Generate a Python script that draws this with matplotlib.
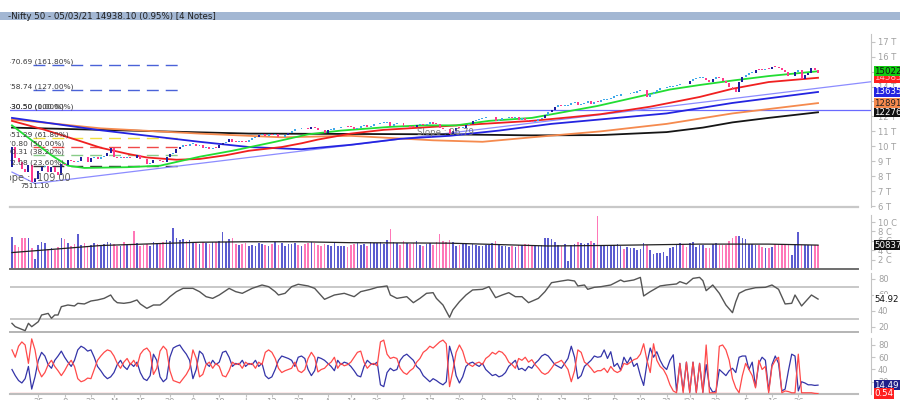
import numpy as np
import matplotlib
matplotlib.use("Agg")
import matplotlib.pyplot as plt
from matplotlib.transforms import blended_transform_factory as blend

# Nifty 50 daily, 13 Mar 2020 .. 5 Mar 2021 (bar 0 = 13 Mar 2020)
first_open = 8590
closes = [
    9955, 9197, 8967, 8468, 8263, 8745, 7610, 7801, 8318, 8641, 8660, 8281, 8598,
    8254, 8084, 8792, 8748, 9112, 8994, 8925, 8992, 9267, 9262, 8981, 9187, 9313, 9154, 9282, 9380, 9553, 9860,
    9294, 9205, 9270, 9199, 9252, 9240, 9197, 9384, 9142, 9137, 8823, 8880, 9067, 9106, 9039, 8946, 9315, 9490, 9580,
    9826, 9980, 10061, 10029, 10142, 10168, 10047, 10116, 9902, 9972, 9814, 9914, 9882, 10091, 10244, 10312, 10471, 10305, 10289, 10383, 10312, 10302,
    10430, 10552, 10607, 10764, 10800, 10706, 10813, 10768, 10802, 10607, 10618, 10740, 10901, 11022, 11162, 11132, 11215, 11194, 11131, 11300, 11202, 11102, 11073,
    10892, 11095, 11102, 11200, 11214, 11270, 11322, 11308, 11300, 11178, 11247, 11385, 11409, 11312, 11372, 11466, 11472, 11550, 11559, 11648, 11388,
    11470, 11536, 11527, 11334, 11355, 11318, 11279, 11450, 11464, 11441, 11522, 11605, 11516, 11505, 11251, 11154, 11132, 10806, 11050, 11228, 11222, 11248,
    11417, 11503, 11662, 11739, 11834, 11914, 11930, 11935, 11971, 11680, 11762, 11873, 11897, 11937, 11896, 11930, 11768, 11889, 11730, 11670, 11642,
    11669, 11813, 11908, 12120, 12264, 12461, 12631, 12749, 12691, 12720, 12780, 12874, 12938, 12772, 12860, 12927, 13055, 12858, 12987, 12969,
    13110, 13114, 13134, 13259, 13356, 13393, 13529, 13478, 13514, 13558, 13567, 13683, 13740, 13761, 13328, 13466, 13601, 13749, 13873, 13932, 13982, 13982,
    14018, 14133, 14199, 14146, 14137, 14347, 14485, 14563, 14565, 14596, 14434, 14281, 14521, 14645, 14590, 14372, 14239, 13968, 13818, 13635,
    14281, 14647, 14790, 14896, 14924, 15116, 15109, 15106, 15173, 15163, 15315, 15314, 15209, 15119, 14982, 14676, 14708, 14982, 15098, 14529,
    14762, 14920, 15245, 15081, 14938,
]

# volume in crore shares
volumes = [
    6.9, 5.1, 4.7, 6.6, 6.6, 6.6, 4.4, 2.1, 5.1, 5.7, 5.5, 4.2, 4.4,
    4.0, 4.6, 6.5, 6.3, 5.5, 4.8, 5.4, 7.4, 5.2, 5.6, 5.0, 5.2, 5.6, 5.3, 5.0, 5.4, 5.8, 5.6,
    5.4, 4.8, 5.0, 5.8, 5.1, 5.3, 8.1, 5.6, 5.0, 5.2, 5.4, 4.9, 5.7, 5.6, 5.4, 5.8, 6.2, 5.9, 8.7,
    6.6, 6.2, 6.3, 5.9, 6.1, 5.8, 5.5, 5.4, 5.7, 5.5, 5.3, 5.8, 5.7, 6.0, 7.9, 5.8, 6.4, 6.5, 5.4, 5.2, 5.3, 5.6,
    5.0, 5.2, 4.9, 5.6, 5.3, 5.2, 4.8, 5.4, 5.7, 5.1, 5.5, 5.0, 5.4, 5.3, 5.6, 5.2, 5.0, 5.4, 5.5, 5.8, 5.6, 5.2, 5.0,
    5.4, 5.2, 5.0, 5.5, 4.8, 5.0, 4.9, 4.6, 5.1, 5.3, 5.6, 5.2, 5.4, 5.0, 5.8, 5.6, 5.5, 5.7, 5.4, 6.2, 8.5,
    5.8, 5.5, 5.2, 6.0, 5.6, 5.4, 5.5, 5.9, 5.2, 4.8, 5.3, 5.6, 5.1, 5.8, 7.4, 6.0, 5.8, 6.2, 5.8, 5.0, 5.1, 5.4,
    5.3, 4.9, 5.4, 5.2, 5.0, 4.9, 5.1, 5.2, 5.5, 6.0, 5.4, 4.8, 4.9, 4.7, 5.0, 4.6, 5.2, 5.1, 5.4, 5.3, 5.1,
    5.1, 5.0, 5.2, 6.6, 6.5, 6.3, 5.8, 5.1, 4.9, 5.3, 1.8, 5.2, 5.4, 5.8, 5.6, 5.3, 5.6, 5.9, 5.5, 11.3,
    5.1, 5.2, 5.0, 5.1, 5.2, 5.4, 4.8, 4.3, 4.6, 4.4, 4.4, 4.0, 4.3, 5.6, 5.1, 4.0, 3.3, 3.4, 3.5, 3.7, 2.8, 4.4,
    4.75, 5.1, 5.6, 5.1, 4.75, 5.6, 5.8, 4.75, 5.1, 5.1, 4.4, 4.4, 5.4, 5.6, 5.1, 5.1, 5.1, 6.0, 6.5, 7.0,
    7.0, 6.7, 6.3, 5.4, 5.4, 5.2, 5.1, 4.75, 4.4, 4.4, 4.75, 5.4, 5.4, 5.4, 5.1, 5.1, 3.0, 5.4, 7.9, 5.1,
    5.2, 5.2, 5.1, 5.1, 5.1,
]

# lower oscillator, two lines
osc_blue = [
    40, 30, 22, 18, 25, 45, 8, 28, 55, 68, 62, 48, 42,
    55, 62, 70, 60, 52, 45, 55, 72, 78, 75, 70, 72, 60, 45, 38, 30, 25, 28,
    35, 48, 55, 45, 40, 50, 45, 52, 35, 25, 22, 30, 65, 55, 28, 20, 25, 60, 75,
    78, 80, 72, 65, 55, 25, 40, 70, 65, 50, 45, 55, 48, 52, 68, 70, 60, 45, 50, 48, 55, 45,
    50, 48, 55, 45, 50, 30, 25, 28, 40, 55, 62, 60, 58, 55, 45, 60, 62, 58, 40, 30, 38, 60, 58,
    55, 50, 45, 38, 55, 48, 52, 50, 45, 38, 30, 28, 45, 55, 50, 48, 52, 15, 12, 35, 42,
    38, 40, 55, 62, 65, 60, 55, 45, 40, 30, 25, 20, 25, 22, 18, 15, 20, 78, 60, 30, 18, 28,
    45, 50, 52, 48, 45, 50, 40, 35, 30, 32, 28, 30, 35, 45, 50, 55, 40, 42, 38, 45, 42,
    50, 55, 62, 65, 62, 55, 48, 45, 42, 50, 58, 78, 60, 25, 30, 45, 50, 55, 62, 60,
    61, 72, 58, 69, 45, 50, 39, 60, 50, 60, 45, 50, 30, 14, 50, 75, 60, 69, 55, 45, 40, 55,
    64, 5, 50, 5, 52, 3, 52, 3, 50, 3, 48, 12, 3, 5, 40, 35, 30, 38, 42, 35,
    60, 62, 62, 40, 52, 12, 50, 60, 55, 5, 48, 62, 50, 5, 8, 38, 65, 62, 5, 20,
    18, 15, 15, 14, 14.49,
]
osc_red = [
    72, 60, 78, 85, 80, 50, 90, 72, 40, 28, 35, 48, 55,
    45, 38, 30, 38, 48, 55, 45, 25, 20, 22, 26, 25, 40, 55, 62, 68, 72, 70,
    62, 50, 42, 52, 58, 48, 55, 45, 65, 72, 75, 68, 32, 42, 70, 78, 72, 38, 22,
    20, 18, 25, 32, 42, 72, 58, 28, 32, 48, 52, 42, 50, 45, 30, 28, 38, 52, 48, 50, 42, 52,
    48, 50, 42, 52, 48, 68, 72, 68, 58, 42, 35, 38, 40, 42, 52, 38, 35, 40, 58, 68, 60, 36, 40,
    42, 48, 52, 60, 42, 50, 46, 48, 52, 60, 68, 70, 52, 42, 48, 50, 46, 85, 88, 65, 58,
    60, 58, 42, 35, 32, 38, 42, 52, 58, 68, 72, 78, 75, 80, 85, 88, 82, 12, 38, 68, 80, 70,
    52, 48, 45, 50, 52, 48, 58, 62, 68, 65, 70, 68, 62, 52, 48, 42, 58, 55, 60, 52, 56,
    48, 42, 35, 32, 35, 42, 50, 52, 55, 48, 40, 20, 38, 72, 68, 52, 48, 42, 35, 38,
    38, 42, 35, 45, 38, 35, 38, 50, 48, 52, 56, 58, 65, 82, 55, 35, 82, 55, 45, 40, 30, 15,
    5, 2, 50, 2, 52, 2, 52, 2, 50, 2, 80, 2, 2, 2, 78, 80, 72, 55, 25, 10,
    2, 30, 50, 40, 30, 10, 55, 40, 45, 2, 45, 55, 60, 2, 5, 4, 2, 2, 65, 2,
    2, 2, 2, 1, 0.54,
]

# RSI read at these bars
rsi_bar = [0, 1, 4, 5, 6, 8, 9, 11, 12, 13, 14, 15, 17, 19, 20, 22, 24, 26, 28, 30, 31, 32, 34, 36, 38, 39,
           41, 43, 45, 47, 48, 50, 52, 55, 57, 59, 61, 63, 66, 68, 70, 73, 76, 78, 80, 81, 83, 85, 87, 90,
           92, 95, 98, 101, 104, 106, 109, 111, 114, 115, 117, 120, 122, 124, 126, 128, 129, 131, 133, 134,
           136, 138, 140, 143, 145, 147, 149, 151, 153, 155, 157, 160, 162, 164, 167, 169, 171, 172, 174,
           175, 177, 179, 182, 185, 186, 189, 191, 192, 194, 197, 199, 202, 203, 205, 207, 209, 210, 211,
           213, 215, 217, 219, 220, 221, 223, 226, 229, 231, 233, 235, 237, 238, 240, 243, 245]
rsi_val = [24.6, 20.4, 15.4, 24.6, 20.4, 26.6, 35, 37, 30.9, 35, 35, 45.4, 47.5, 46.3, 49.6, 48.8, 52.5,
           53.8, 55.8, 60, 53.8, 50.4, 49.6, 50.8, 53.8, 48.8, 43.3, 47.5, 47.5, 53.8, 57.9, 64.2, 68.3,
           68.3, 64.2, 57.9, 55.8, 60, 68.3, 64.2, 62.1, 68.3, 72.5, 70.4, 64.2, 60, 62.1, 70.4, 73.4,
           71.3, 68.3, 54.6, 60, 62.1, 57.9, 64.2, 67.1, 69.6, 71.3, 60, 55.8, 57.9, 50.4, 55.8, 62.1,
           62.9, 55.8, 47.5, 32.1, 41.3, 51.6, 60, 66.3, 67.1, 70.4, 56.7, 60, 62.9, 57.9, 57.9, 50.4,
           55.8, 64.2, 75.4, 77.5, 78.8, 77.5, 71.3, 72.5, 67.1, 69.6, 70.4, 72.5, 78.8, 76.7, 78.8, 82,
           58.8, 64.2, 71.3, 72.5, 73.8, 76.7, 73.8, 80.8, 82, 77.9, 65.4, 72.5, 62.1, 47.5, 37.9, 51.6,
           62.1, 66.3, 69.1, 69.6, 72.5, 67.1, 48.8, 49.6, 60, 46.3, 60, 54.92]

# moving averages read at these bars
ma_green_bar = [0, 6, 12, 17, 22, 35, 45, 57, 67, 80, 90, 100, 115, 125, 135, 145, 158, 168, 178, 190, 200, 209, 219, 230, 245]
ma_green_val = [11400, 10400, 9400, 8700, 8550, 8600, 8700, 9300, 9700, 10300, 10800, 11050, 11300, 11400, 11400,
                11700, 11900, 12300, 12700, 13300, 13800, 14100, 14400, 14700, 15022]
ma_red_bar = [0, 10, 20, 27, 35, 41, 50, 57, 65, 72, 82, 88, 93, 103, 113, 128, 143, 158, 170, 179, 194, 209, 219, 230, 245]
ma_red_val = [11700, 11100, 10400, 9900, 9500, 9250, 9100, 9150, 9400, 9700, 9950, 10200, 10450, 10850, 11100,
              11300, 11500, 11700, 11950, 12150, 12650, 13300, 13850, 14300, 14585]
ma_blue_bar = [0, 27, 57, 72, 88, 103, 118, 133, 148, 164, 179, 199, 219, 245]
ma_blue_val = [11900, 11070, 10300, 9950, 9800, 10100, 10500, 10700, 11050, 11500, 11800, 12200, 12900, 13635]
ma_orange_bar = [0, 27, 57, 82, 103, 128, 143, 158, 179, 199, 219, 245]
ma_orange_val = [11800, 11200, 10850, 10600, 10700, 10400, 10300, 10600, 11000, 11500, 12200, 12891]
ma_black_bar = [0, 27, 72, 133, 158, 179, 199, 210, 219, 230, 245]
ma_black_val = [11250, 11100, 10850, 10800, 10730, 10750, 10950, 11250, 11600, 11900, 12276]

vol_ma_bar = [0, 27, 57, 72, 88, 103, 133, 163, 179, 209, 230, 245]
vol_ma_val = [3.5, 5.0, 5.7, 5.8, 5.8, 5.6, 5.5, 4.9, 5.0, 5.3, 5.3, 5.0837]

# fibonacci from the Jan-2020 high to the Mar-2020 low
fib_low, fib_high, low_bar = 7511.10, 12430.50, 7
fib_ratios = [1.618, 1.27, 1.0, 0.618, 0.5, 0.382, 0.236]
fib_colors = ['#4a62d8', '#4a62d8', '#6a6aff', '#f0e040', '#f04848', '#88cc88', '#333333']
slope_up, slope_down = 26.79, -109.00

tick_bar = [8, 16, 24, 31, 39, 48, 55, 63, 71, 79, 87, 96, 103, 111, 119, 127, 136, 143, 152, 160, 167, 175,
            183, 191, 199, 206, 214, 223, 231, 239]
tick_text = ['25', '8', '22', 'M', '15', '29', '9', '18', 'J', '13', '27', 'A', '14', '26', 'S', '17', '29', 'O',
             '23', 'N', '17', '25', 'D', '18', '31', "'21", '22', 'F', '16', '26']

title = "-Nifty 50 - 05/03/21 14938.10 (0.95%) [4 Notes]"

# ---------------------------------------------------------------- layout
W, H = 900, 400
fig = plt.figure(figsize=(9, 4), dpi=100, facecolor='white')
X0, X1 = -0.6, 261.1
SEP_END = 257.2
AXC = '#c4c4c4'
LBL = '#a0a0a0'


def panel(top, bottom):
    ax = fig.add_axes([10 / W, 1 - bottom / H, 861 / W, (bottom - top) / H])
    ax.set_xlim(X0, X1)
    ax.patch.set_alpha(0)
    for s in ('left', 'top', 'bottom'):
        ax.spines[s].set_visible(False)
    ax.spines['right'].set_color(AXC)
    ax.yaxis.tick_right()
    ax.tick_params(axis='y', length=3, width=0.8, color=AXC, labelsize=6, labelcolor=LBL, pad=2)
    ax.set_xticks([])
    return ax


def sep(ax, color, lw=1.6):
    ax.spines['bottom'].set_visible(True)
    ax.spines['bottom'].set_color(color)
    ax.spines['bottom'].set_linewidth(lw)
    ax.spines['bottom'].set_bounds(X0, SEP_END)


def value_box(ax, y, text, fc, tc):
    ax.annotate(text, xy=(1, y), xycoords=blend(ax.transAxes, ax.transData), xytext=(2.5, 0),
                textcoords='offset points', ha='left', va='center', fontsize=6.2, color=tc,
                bbox=dict(boxstyle='square,pad=0.08', fc=fc, ec='none'), annotation_clip=False, zorder=10)


bars = np.arange(len(closes))
c = np.array(closes, dtype=float)
o = np.r_[first_open, c[:-1]]
up = c >= o

# title bar
axt = fig.add_axes([0, 1 - 20 / H, 1, 8 / H])
axt.set_facecolor('#a3b7d3')
axt.set_xticks([]); axt.set_yticks([])
for s in axt.spines.values():
    s.set_visible(False)
axt.text(8 / W, 0.45, title, transform=axt.transAxes, va='center', ha='left', fontsize=6.2, color='#1e1e1e')

# ---------------------------------------------------------------- price
axp = panel(20, 207)
axp.set_ylim(5936, 18452)
sep(axp, '#c8c8c8')
axp.spines['right'].set_bounds(5936, 17500)
axp.set_yticks(np.arange(6000, 18000, 1000))
axp.set_yticklabels([f"{v // 1000} T" for v in range(6000, 18000, 1000)])

inch_x = blend(fig.dpi_scale_trans, axp.transData)
fib_levels = [fib_low + r * (fib_high - fib_low) for r in fib_ratios]
for r, lev, col in zip(fib_ratios, fib_levels, fib_colors):
    if r == 1.0:
        axp.axhline(lev, color=col, lw=0.9, zorder=2)
    else:
        axp.plot([6.4, 52], [lev, lev], color=col, lw=1.0, dashes=(8.6, 5), zorder=2)
    lab = f"{lev:.2f} ({r * 100:.2f}%)"
    axp.text(-0.03, lev, lab, transform=inch_x, fontsize=5.3, color='#3a3a3a', ha='left', va='bottom',
             clip_on=True, zorder=6)
axp.text(-0.03, fib_levels[2], f"{fib_high:.2f} (0.00%)", transform=inch_x, fontsize=5.3, color='#3a3a3a',
         ha='left', va='bottom', clip_on=True, zorder=6)

# trendlines
xs_up = np.array([low_bar, X1])
axp.plot(xs_up, fib_low + slope_up * (xs_up - low_bar), color='#8c8cff', lw=0.9, zorder=2)
xs_dn = np.array([0, low_bar])
axp.plot(xs_dn, fib_low + slope_down * (xs_dn - low_bar), color='#8c8cff', lw=0.9, zorder=2)
axp.text(123, fib_low + slope_up * (123 - low_bar), f"Slope : {slope_up:.2f}", fontsize=6.2, color='#7a7a7a',
         ha='left', va='bottom', zorder=7)
axp.text(-0.03, fib_low, f"Slope : {slope_down:.2f}", transform=inch_x, fontsize=7, color='#5a5a5a',
         ha='left', va='bottom', clip_on=True, zorder=7)
axp.text(low_bar, fib_low, f"{fib_low:.2f}", fontsize=5, color='#333333', ha='center', va='top', zorder=7)

# moving averages
ma_sets = [
    (ma_black_bar, ma_black_val, '#151515', '#111111', 'white'),
    (ma_orange_bar, ma_orange_val, '#f58a4e', '#f58a4e', '#222222'),
    (ma_blue_bar, ma_blue_val, '#2424e0', '#2424e0', 'white'),
    (ma_red_bar, ma_red_val, '#f02020', '#ff2020', '#ffc0c0'),
    (ma_green_bar, ma_green_val, '#22dd33', '#11cc11', '#111111'),
]
for bx, vals, col, fc, tc in ma_sets:
    axp.plot(bx, vals, color=col, lw=1.3, zorder=3, solid_joinstyle='round')
    value_box(axp, vals[-1], f"{vals[-1]:.0f}", fc, tc)

# candles
chg = np.abs(c - o)
candle_col = np.where(up, np.where(chg > 150, '#1e1e9e', '#3fa9ea'), '#ff3a8c')
body = np.maximum(chg, 45)
axp.bar(bars, body, bottom=np.minimum(o, c), width=0.6, color=candle_col, lw=0, zorder=5)

# ---------------------------------------------------------------- volume
axv = panel(207, 269)
axv.set_ylim(0, 13.2)
sep(axv, '#6e6e6e', 1.4)
axv.spines['right'].set_bounds(0, 11.5)
axv.set_yticks([2, 4, 6, 8, 10])
axv.set_yticklabels([f"{v} C" for v in (2, 4, 6, 8, 10)])
vol_col = np.where(up, '#5c5cd0', '#ff78b8')
axv.bar(bars, volumes, width=0.5, color=vol_col, lw=0, zorder=2)
axv.plot(vol_ma_bar, vol_ma_val, color='#222222', lw=0.9, zorder=3)
value_box(axv, vol_ma_val[-1], f"{vol_ma_val[-1] * 1e7:.0f}", '#111111', 'white')

# ---------------------------------------------------------------- RSI
axr = panel(269, 332)
axr.set_ylim(13.75, 92.5)
sep(axr, '#b4b4b4', 1.4)
axr.spines['right'].set_bounds(13.75, 88)
axr.set_yticks([20, 40, 60, 80])
for lev in (70, 30):
    axr.plot([X0, SEP_END], [lev, lev], color='#c8c8c8', lw=1.4, zorder=1)
axr.plot(rsi_bar, rsi_val, color='#555555', lw=1.0, zorder=3)
value_box(axr, rsi_val[-1], f"{rsi_val[-1]:.2f}", 'white', '#111111')

# ---------------------------------------------------------------- oscillator
axo = panel(332, 394)
axo.set_ylim(0, 101.2)
sep(axo, '#bdbdbd', 1.5)
axo.spines['right'].set_bounds(0, 92)
axo.set_yticks([20, 40, 60, 80])
axo.axhline(1.2, xmin=0, xmax=(bars[-1] - X0) / (X1 - X0), color='#ff9a9a', lw=1.0, zorder=1)
axo.plot(bars, osc_blue, color='#3434a8', lw=0.9, zorder=3)
axo.plot(bars, osc_red, color='#ff4a4a', lw=0.9, zorder=3)
value_box(axo, osc_blue[-1], f"{osc_blue[-1]:.2f}", '#20208a', 'white')
value_box(axo, osc_red[-1], f"{osc_red[-1]:.2f}", '#ff2020', 'white')
axo.set_xticks(tick_bar)
axo.set_xticklabels(tick_text)
axo.tick_params(axis='x', length=2, color=AXC, labelsize=6, labelcolor=LBL, pad=1)

fig.savefig('out.png', dpi=100, facecolor='white')
